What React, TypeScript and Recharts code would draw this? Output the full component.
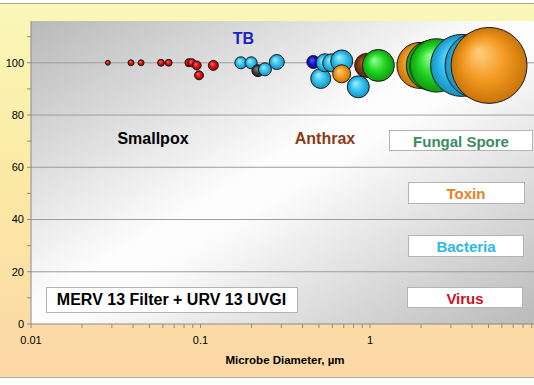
import React from 'react';
import { ScatterChart, Scatter, XAxis, YAxis, ZAxis, CartesianGrid } from 'recharts';

// Microbe diameter (µm), removal efficiency (%), bubble size, group — in drawing order
const diameters = [0.0284, 0.0389, 0.0446, 0.0585, 0.0649, 0.0855, 0.0887, 0.095, 0.098, 0.119,
  0.173, 0.199, 0.218, 0.24, 0.282, 0.463, 0.512, 0.543, 0.594, 0.681, 0.68, 0.853, 0.956, 1.12,
  1.97, 2.3, 2.47, 3.47, 4.34, 5.04];
const efficiencies = [100, 100, 100, 100, 100, 100, 100, 99, 95.2, 99,
  100, 100, 97, 97.5, 100.3, 100.3, 94, 100, 100, 100.7, 95.8, 90.8, 99, 99,
  99, 99, 99, 99, 99, 99];
const bubbleSizes = [6, 9, 9, 12, 12, 16, 16, 20, 20, 25,
  36, 36, 36, 42, 56, 42, 100, 81, 81, 121, 81, 121, 144, 256,
  529, 625, 713, 961, 1089, 1444];
const groups = ['Virus', 'Virus', 'Virus', 'Virus', 'Virus', 'Virus', 'Virus', 'Virus', 'Virus', 'Virus',
  'Bacteria', 'Bacteria', 'Other', 'Bacteria', 'Bacteria', 'TB', 'Bacteria', 'Bacteria', 'Bacteria', 'Bacteria', 'Toxin', 'Bacteria', 'Anthrax', 'Fungal Spore',
  'Toxin', 'Fungal Spore', 'Fungal Spore', 'Bacteria', 'Bacteria', 'Toxin'];

const xTicks = [0.01, 0.02, 0.03, 0.04, 0.05, 0.06, 0.07, 0.08, 0.09, 0.1, 0.2, 0.3, 0.4, 0.5, 0.6, 0.7, 0.8, 0.9, 1, 2, 3, 4, 5, 6, 7, 8, 9, 10];
const xLabels = [0.01, 0.1, 1];
const yTicks = [0, 10, 20, 30, 40, 50, 60, 70, 80, 90, 100, 110];
const yLabels = [0, 20, 40, 60, 80, 100];
const gridValues = [20, 40, 60, 80, 100];

const data = diameters.map((d, i) => ({ d, e: efficiencies[i], s: bubbleSizes[i], g: groups[i] }));

const palette: Record<string, [string, string, string, string]> = {
  Virus: ['gVirus', '#ff7070', '#e01010', '#980000'],
  Bacteria: ['gBact', '#a8ecff', '#33c3f0', '#1790c0'],
  TB: ['gTB', '#6060ff', '#1414d0', '#080880'],
  Other: ['gOther', '#8a8a8a', '#444444', '#1c1c1c'],
  Toxin: ['gToxin', '#ffcf80', '#f39a22', '#c87408'],
  Anthrax: ['gAnthrax', '#c8683a', '#8b3a12', '#5e2408'],
  'Fungal Spore': ['gFungal', '#9aff9a', '#22d622', '#0f9a0f'],
};

const Bubble = (props: any) => {
  const { cx, cy, width, payload } = props;
  if (cx == null || cy == null) return null;
  const r = width / 2;
  const p = palette[payload.g];
  return <circle cx={cx} cy={cy} r={r} fill={`url(#${p[0]})`} stroke="#1a1a1a" strokeWidth={1} />;
};

const font = '"Liberation Sans", Arial, sans-serif';

const Label = ({ x, y, text, color, size, box }: any) => (
  <div style={{ position: 'absolute', left: x, top: y, transform: 'translate(-50%,-50%)', color, fontSize: size, fontWeight: 'bold', fontFamily: font, whiteSpace: 'nowrap', lineHeight: 1 }}>{text}</div>
);

const Box = ({ l, t, w, h }: any) => (
  <div style={{ position: 'absolute', left: l, top: t, width: w, height: h, background: '#fff', border: '1px solid #b4b4b4', boxSizing: 'border-box' }} />
);

export default function App() {
  return (
    <div style={{ position: 'absolute', left: 0, top: 0, width: 534, height: 385, overflow: 'hidden', background: '#fff', fontFamily: font }}>
      <div style={{ position: 'absolute', left: -2, top: 3, width: 540, height: 375, boxSizing: 'border-box', borderTop: '1px solid #aaa58a', borderBottom: '1px solid #b3ad98', background: 'linear-gradient(#faf7b8 0%, #fbeaa6 45%, #fcd7a6 100%)' }} />
      <div style={{ position: 'absolute', left: 0, top: 0 }}>
        <ScatterChart width={560} height={385} margin={{ top: 21, right: 20.5, bottom: 31, left: 0 }}>
          <defs>
            <linearGradient id="plotBg" x1="0" y1="0" x2="1" y2="1">
              <stop offset="0" stopColor="#b9b9b9" />
              <stop offset="0.47" stopColor="#fdfdfd" />
              <stop offset="0.53" stopColor="#fdfdfd" />
              <stop offset="1" stopColor="#b9b9b9" />
            </linearGradient>
            {Object.keys(palette).map((k) => (
              <radialGradient key={k} id={palette[k][0]} cx="0.5" cy="0.5" r="0.5" fx="0.36" fy="0.32">
                <stop offset="0" stopColor={palette[k][1]} />
                <stop offset="0.55" stopColor={palette[k][2]} />
                <stop offset="1" stopColor={palette[k][3]} />
              </radialGradient>
            ))}
          </defs>
          <CartesianGrid vertical={false} horizontalValues={gridValues} stroke="#9c9c9c" fill="url(#plotBg)" fillOpacity={1} />
          <XAxis
            dataKey="d"
            type="number"
            scale="log"
            domain={[0.01, 10]}
            ticks={xTicks}
            interval={0}
            tickFormatter={(v: number) => (xLabels.some((l) => Math.abs(l - v) < 1e-9) ? String(v) : '')}
            tick={{ fill: '#000', fontSize: 11, fontFamily: font }}
            tickSize={4}
            tickMargin={8}
            axisLine={{ stroke: '#8a8a8a' }}
            tickLine={{ stroke: '#8a8a8a' }}
            height={30}
          />
          <YAxis
            dataKey="e"
            type="number"
            domain={[0, 116]}
            ticks={yTicks}
            interval={0}
            tickFormatter={(v: number) => (yLabels.includes(v) ? String(v) : '')}
            tick={{ fill: '#000', fontSize: 11, fontFamily: font }}
            tickSize={4}
            tickMargin={3}
            axisLine={{ stroke: '#8a8a8a' }}
            tickLine={{ stroke: '#8a8a8a' }}
            width={31}
          />
          <ZAxis dataKey="s" type="number" domain={[0, 1444]} range={[0, Math.PI * 1444]} />
          <Scatter data={data} shape={Bubble} isAnimationActive={false} />
        </ScatterChart>
      </div>
      <Label x={285} y={361} text="Microbe Diameter, µm" color="#000" size={11.5} />
      <Label x={243.5} y={39} text="TB" color="#1f1fc6" size={16} />
      <Label x={153} y={139} text="Smallpox" color="#000" size={16} />
      <Label x={325} y={139} text="Anthrax" color="#8b3a16" size={16} />
      <Box l={389} t={130} w={144} h={21} />
      <Label x={461} y={140.5} text="Fungal Spore" color="#3a8c62" size={15} />
      <Box l={408} t={182} w={117} h={22} />
      <Label x={466} y={193} text="Toxin" color="#e8801e" size={15} />
      <Box l={408} t={235} w={116} h={22} />
      <Label x={466} y={246} text="Bacteria" color="#2cb9e2" size={15} />
      <Box l={407} t={287} w={116} h={21} />
      <Label x={465} y={297.5} text="Virus" color="#d0101e" size={15} />
      <Box l={46} t={287} w={252} h={26} />
      <Label x={171.5} y={300} text="MERV 13 Filter + URV 13 UVGI" color="#000" size={16} />
    </div>
  );
}
